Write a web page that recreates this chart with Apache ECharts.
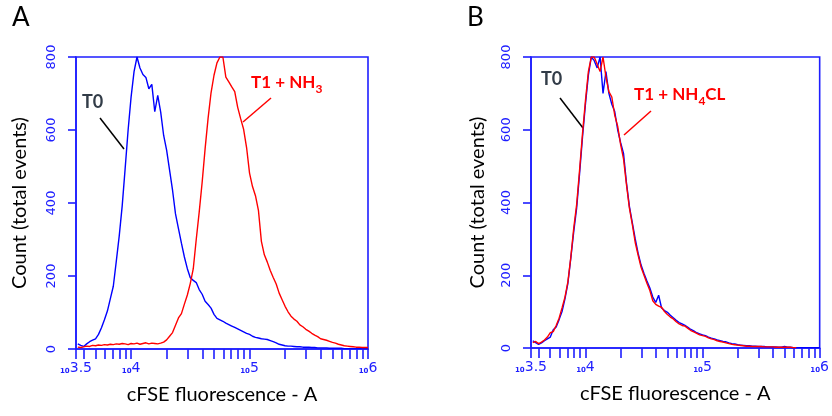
<!DOCTYPE html>
<html><head><meta charset="utf-8">
<script src="https://cdn.jsdelivr.net/npm/echarts@6/dist/echarts.min.js"></script>
<style>html,body{margin:0;padding:0;background:#fff}#c{width:832px;height:416px}</style>
</head><body><div id="c"></div>
<script>
// Histogram channels: log10(cFSE fluorescence) of each channel
const channelStartExp = 3.55;
const channelStepExp = 0.025;

// Panel A counts per channel
const t0_A = [
  14,10,7,14,20,24,28,40,58,80,
  104,138,172,240,310,392,495,600,690,760,
  800,770,752,744,713,725,650,695,649,585,
  545,490,435,370,330,290,252,220,195,188,
  182,163,150,131,122,112,95,84,80,76,
  71,67,63,59,55,51,47,43,40,35,
  32,30,28,27,26,23,20,17,13,11,
  9,8,8,7,6,6,5,5,5,4,
  4,3,3,3,3,2,2,2,2,2,
  1,1,1,1,1,1,1,1,1
];
const t1NH3_A = [
  5,4,6,8,7,10,9,11,10,12,
  11,13,12,14,13,15,14,12,15,14,
  16,13,15,17,14,16,15,14,16,19,
  25,35,45,65,85,97,123,148,180,220,
  300,375,457,549,632,702,750,784,800,800,
  745,732,718,705,662,631,602,552,482,445,
  420,380,295,258,238,215,196,178,153,135,
  117,102,90,82,76,66,61,54,49,43,
  38,34,28,26,24,21,18,16,13,11,
  9,8,7,6,5,5,4,4,4
];
// Panel B counts per channel
const t0_B = [
  20,15,10,14,20,25,30,50,58,78,
  100,135,178,247,320,385,480,580,670,750,
  800,790,770,800,700,760,700,670,650,600,
  565,535,455,390,345,300,260,228,205,184,
  165,140,125,145,110,103,98,90,83,76,
  70,66,62,57,51,47,42,39,36,34,
  30,27,25,22,20,18,17,14,12,11,
  9,8,7,6,6,5,5,4,4,4,
  3,3,3,3,2,2,4,2,2,1,
  1,1,1,1,1,1,1,1,1
];
const t1NH4CL_B = [
  15,18,12,16,22,30,42,45,62,82,
  110,140,182,250,330,395,490,590,680,760,
  800,800,780,760,800,745,705,690,640,610,
  560,520,450,385,340,290,255,222,200,178,
  158,130,120,115,112,100,92,85,80,72,
  66,62,60,54,48,44,40,36,34,32,
  28,25,23,20,18,16,14,12,10,9,
  8,7,6,5,5,4,4,4,4,3,
  3,3,3,2,2,2,2,2,2,1,
  1,null,null,null,null,null,null,null,null
];

const yTickValues = [0, 200, 400, 600, 800];
const xLabelTexts = ['3.5', '4', '5', '6'];
const xTickFluor = [4000,5000,6000,7000,8000,9000,10000,
  20000,30000,40000,50000,60000,70000,80000,90000,100000,
  200000,300000,400000,500000,600000,700000,800000,900000,1000000];

// layout / style
const axisStartExp = 3.535;
const axisEndExp = 6;
const BLUE_AX = '#1e1eff';
const xLabelPos = [axisStartExp, 4, 5, 6];

function toPairs(arr) {
  return arr.map((v, i) => [channelStartExp + i * channelStepExp, v]);
}

const chart = echarts.init(document.getElementById('c'), null, {renderer: 'canvas'});

function xAxisFor(gridIndex) {
  return {
    type: 'value', gridIndex, min: axisStartExp, max: axisEndExp,
    splitLine: {show: false},
    axisLine: {show: true, lineStyle: {color: BLUE_AX, width: 1.6}},
    axisTick: {show: true, length: 10, lineStyle: {color: BLUE_AX, width: 1.6},
      customValues: [axisStartExp].concat(xTickFluor.map(Math.log10))},
    axisLabel: {
      show: true, margin: 12,
      customValues: xLabelPos,
      formatter: function (v) {
        let best = 0, d = 1e9;
        xLabelPos.forEach((p, i) => { if (Math.abs(p - v) < d) { d = Math.abs(p - v); best = i; } });
        return '{b|10}{e|' + xLabelTexts[best] + '}';
      },
      rich: {
        b: {fontSize: 7, fontWeight: 'bold', fontFamily: 'DejaVu Sans', color: BLUE_AX, verticalAlign: 'bottom', lineHeight: 14},
        e: {fontSize: 14, fontFamily: 'DejaVu Sans', color: BLUE_AX, verticalAlign: 'bottom', lineHeight: 14}
      }
    },
    name: 'cFSE fluorescence - A', nameLocation: 'middle', nameGap: 36,
    nameTextStyle: {fontSize: 20, fontFamily: 'Lato', color: '#000'}
  };
}
function yAxisFor(gridIndex, nameGap, tickLen) {
  return {
    type: 'value', gridIndex, min: 0, max: 800, interval: 200,
    splitLine: {show: false},
    axisLine: {show: true, lineStyle: {color: BLUE_AX, width: 1.6}},
    axisTick: {show: true, length: tickLen, lineStyle: {color: BLUE_AX, width: 1.6}},
    axisLabel: {show: true, rotate: 90, margin: 18, fontSize: 13, fontFamily: 'DejaVu Sans', color: BLUE_AX,
      customValues: yTickValues},
    name: 'Count (total events)', nameLocation: 'middle', nameGap: nameGap,
    nameTextStyle: {fontSize: 20, fontFamily: 'Lato', color: '#000'}
  };
}
function lineSeries(name, data, color, idx, z) {
  return {
    name, type: 'line', xAxisIndex: idx, yAxisIndex: idx, data: toPairs(data),
    showSymbol: false, symbol: 'none', clip: true, z: z,
    lineStyle: {color, width: 1.4}, itemStyle: {color}, animation: false
  };
}

const RED = '#ff0000', BLUE = '#0000ff', DARK = '#323c48';
const option = {
  backgroundColor: '#fff',
  animation: false,
  grid: [
    {left: 76, top: 57, width: 292, height: 292, show: true, borderColor: BLUE_AX, borderWidth: 1.6, backgroundColor: 'transparent'},
    {left: 531, top: 57, width: 292, height: 291, show: true, borderColor: BLUE_AX, borderWidth: 1.6, backgroundColor: 'transparent'}
  ],
  xAxis: [xAxisFor(0), xAxisFor(1)],
  yAxis: [yAxisFor(0, 46, 8), yAxisFor(1, 43, 8)],
  series: [
    lineSeries('T0', t0_A, BLUE, 0, 2),
    lineSeries('T1 + NH3', t1NH3_A, RED, 0, 3),
    lineSeries('T0', t0_B, BLUE, 1, 2),
    lineSeries('T1 + NH4CL', t1NH4CL_B, RED, 1, 3)
  ],
  graphic: [
    {type: 'text', left: 12, top: 5, style: {text: 'A', fontSize: 26, fontFamily: 'Lato', fill: '#000'}},
    {type: 'text', left: 467, top: 5, style: {text: 'B', fontSize: 26, fontFamily: 'Lato', fill: '#000'}},
    // Panel A annotations
    {type: 'text', left: 82, top: 93, style: {text: 'T0', fontSize: 18, fontWeight: 'bold', fontFamily: 'Lato', fill: DARK}},
    {type: 'line', shape: {x1: 100, y1: 118, x2: 124, y2: 149}, style: {stroke: '#000', lineWidth: 1.5}},
    {type: 'text', left: 251, top: 74, style: {
      text: '{m|T1 + NH}{s|3}',
      rich: {
        m: {fontSize: 17, fontWeight: 'bold', fontFamily: 'Lato', fill: RED, verticalAlign: 'bottom', padding: [0, 0, 4, 0]},
        s: {fontSize: 12, fontWeight: 'bold', fontFamily: 'Lato', fill: RED, verticalAlign: 'bottom'}
      }}},
    {type: 'line', shape: {x1: 271, y1: 98, x2: 243, y2: 122}, style: {stroke: RED, lineWidth: 1.5}},
    // Panel B annotations
    {type: 'text', left: 541, top: 70, style: {text: 'T0', fontSize: 18, fontWeight: 'bold', fontFamily: 'Lato', fill: DARK}},
    {type: 'line', shape: {x1: 560, y1: 98, x2: 583, y2: 128}, style: {stroke: '#000', lineWidth: 1.5}},
    {type: 'text', left: 634, top: 86, style: {
      text: '{m|T1 + NH}{s|4}{m|CL}',
      rich: {
        m: {fontSize: 17, fontWeight: 'bold', fontFamily: 'Lato', fill: RED, verticalAlign: 'bottom', padding: [0, 0, 4, 0]},
        s: {fontSize: 12, fontWeight: 'bold', fontFamily: 'Lato', fill: RED, verticalAlign: 'bottom'}
      }}},
    {type: 'line', shape: {x1: 651, y1: 111, x2: 624, y2: 135}, style: {stroke: RED, lineWidth: 1.5}}
  ]
};
chart.setOption(option);
</script>
</body></html>
